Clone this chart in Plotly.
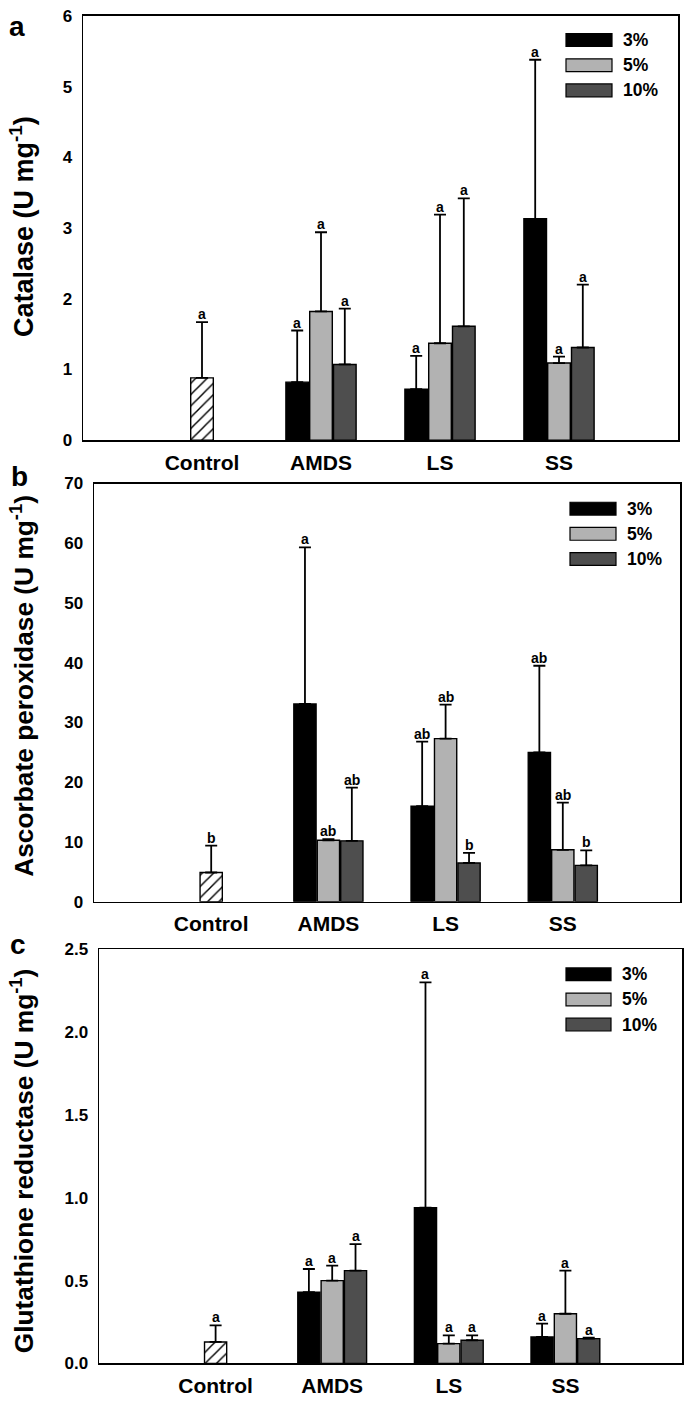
import plotly.graph_objects as go

W, H = 685, 1408

categories = ["Control", "AMDS", "LS", "SS"]
treat_cats = ["AMDS", "LS", "SS"]
series_names = ["3%", "5%", "10%"]

# Panel a: Catalase
a_control = [0.88]
a_control_err = [0.79]
a_control_lab = ["a"]
a_3 = [0.82, 0.72, 3.13]
a_3_err = [0.73, 0.47, 2.25]
a_5 = [1.82, 1.37, 1.09]
a_5_err = [1.12, 1.82, 0.09]
a_10 = [1.07, 1.61, 1.31]
a_10_err = [0.79, 1.81, 0.89]
a_3_lab = ["a", "a", "a"]
a_5_lab = ["a", "a", "a"]
a_10_lab = ["a", "a", "a"]

# Panel b: Ascorbate peroxidase
b_control = [4.9]
b_control_err = [4.5]
b_control_lab = ["b"]
b_3 = [33.1, 16.0, 25.0]
b_3_err = [26.2, 10.8, 14.5]
b_5 = [10.3, 27.3, 8.7]
b_5_err = [0.2, 5.7, 7.9]
b_10 = [10.2, 6.5, 6.1]
b_10_err = [8.9, 1.7, 2.5]
b_3_lab = ["a", "ab", "ab"]
b_5_lab = ["ab", "ab", "ab"]
b_10_lab = ["ab", "b", "b"]

# Panel c: Glutathione reductase
c_control = [0.13]
c_control_err = [0.10]
c_control_lab = ["a"]
c_3 = [0.43, 0.94, 0.16]
c_3_err = [0.14, 1.36, 0.08]
c_5 = [0.50, 0.12, 0.30]
c_5_err = [0.09, 0.05, 0.26]
c_10 = [0.56, 0.14, 0.15]
c_10_err = [0.16, 0.03, 0.006]
c_3_lab = ["a", "a", "a"]
c_5_lab = ["a", "a", "a"]
c_10_lab = ["a", "a", "a"]

y_titles = ["Catalase (U mg<sup>-1</sup>)",
            "Ascorbate peroxidase (U mg<sup>-1</sup>)",
            "Glutathione reductase (U mg<sup>-1</sup>)"]
panel_letters = ["a", "b", "c"]
y_ranges = [[0, 6], [0, 70], [0, 2.5]]
y_dticks = [1, 10, 0.5]
y_formats = ["d", "d", ".1f"]

series_colors = ["#000000", "#b2b2b2", "#4e4e4e"]

FONT = "Liberation Sans, Arial, sans-serif"

# panel frames in pixels (left, right, top, bottom)
frames = [(83, 678, 7, 437), (94, 680, 481, 905), (99, 682, 953, 1373)]
title_y = [221, 686, 1168]
title_size = [27, 26.3, 26.3]
letter_pos = [(17, 18), (19, 474), (18, 948)]
legend_px = [(566, 612, 25), (570, 616, 500), (566, 611, 972)]

data = [
    (a_control, a_control_err, a_control_lab,
     [a_3, a_5, a_10], [a_3_err, a_5_err, a_10_err], [a_3_lab, a_5_lab, a_10_lab]),
    (b_control, b_control_err, b_control_lab,
     [b_3, b_5, b_10], [b_3_err, b_5_err, b_10_err], [b_3_lab, b_5_lab, b_10_lab]),
    (c_control, c_control_err, c_control_lab,
     [c_3, c_5, c_10], [c_3_err, c_5_err, c_10_err], [c_3_lab, c_5_lab, c_10_lab]),
]

BW = 0.19
offsets = [-0.295, -0.095, 0.105]

fig = go.Figure()
annotations = []
shapes = []

def px2x(p):
    return p / W

def px2y(p):
    return 1 - p / H

for i, (ctrl, ctrl_err, ctrl_lab, ser, ser_err, ser_lab) in enumerate(data):
    n = "" if i == 0 else str(i + 1)
    xa, ya = "x" + n, "y" + n
    # control hatched bar
    fig.add_trace(go.Bar(
        x=["Control"], y=ctrl, width=BW, offset=-0.095,
        marker=dict(color="white", line=dict(color="black", width=1.4),
                    pattern=dict(shape="/", fgcolor="black", bgcolor="white",
                                 size=8, solidity=0.18, fillmode="replace")),
        error_y=dict(type="data", symmetric=False, array=ctrl_err,
                     arrayminus=[0] * len(ctrl), color="black",
                     thickness=1.8, width=6),
        xaxis=xa, yaxis=ya, showlegend=False))
    for k in range(3):
        fig.add_trace(go.Bar(
            x=treat_cats, y=ser[k], width=BW, offset=offsets[k],
            name=series_names[k],
            marker=dict(color=series_colors[k], line=dict(color="black", width=1.4)),
            error_y=dict(type="data", symmetric=False, array=ser_err[k],
                         arrayminus=[0] * 3, color="black",
                         thickness=1.8, width=6),
            xaxis=xa, yaxis=ya, showlegend=False))
        for j, cat in enumerate(treat_cats):
            annotations.append(dict(
                x=categories.index(cat) + offsets[k] + BW / 2,
                y=ser[k][j] + ser_err[k][j], xref=xa, yref=ya,
                text=ser_lab[k][j], showarrow=False, yanchor="bottom",
                yshift=-2,
                font=dict(family=FONT, size=14, color="black", weight="bold")))
    annotations.append(dict(
        x=0, y=ctrl[0] + ctrl_err[0], xref=xa, yref=ya,
        text=ctrl_lab[0], showarrow=False, yanchor="bottom", yshift=-2,
        font=dict(family=FONT, size=14, color="black", weight="bold")))

    l, r, t, b = frames[i]
    fig.layout["xaxis" + n] = dict(
        domain=[px2x(l), px2x(r)], anchor=ya, type="category",
        categoryorder="array", categoryarray=categories,
        range=[-1, 4], showline=True, mirror=True, linecolor="black",
        linewidth=1.5, ticks="outside", ticklen=3, tickcolor="rgba(0,0,0,0)",
        tickfont=dict(family=FONT, size=21, color="black", weight="bold"),
        showgrid=False, zeroline=False, fixedrange=True)
    fig.layout["yaxis" + n] = dict(
        domain=[px2y(b), px2y(t)], anchor=xa, range=y_ranges[i],
        dtick=y_dticks[i], tick0=0, tickformat=y_formats[i],
        showline=True, mirror=True, linecolor="black", linewidth=1.5,
        ticks="outside", ticklen=6, tickcolor="rgba(0,0,0,0)",
        tickfont=dict(family=FONT, size=17, color="black", weight="bold"),
        showgrid=False, zeroline=False, fixedrange=True)

    # y title
    annotations.append(dict(
        x=px2x(22), y=px2y(title_y[i]), xref="paper", yref="paper",
        text=y_titles[i], textangle=-90, showarrow=False,
        xanchor="center", yanchor="middle",
        font=dict(family=FONT, size=title_size[i], color="black", weight="bold")))
    # panel letter
    lx, ly = letter_pos[i]
    annotations.append(dict(
        x=px2x(lx), y=px2y(ly), xref="paper", yref="paper",
        text=panel_letters[i], showarrow=False, xanchor="center",
        yanchor="middle",
        font=dict(family=FONT, size=28, color="black", weight="bold")))

    # legend
    x0, x1, y0 = legend_px[i]
    for k in range(3):
        yy = y0 + k * 25.5
        shapes.append(dict(type="rect", xref="paper", yref="paper",
                           x0=px2x(x0), x1=px2x(x1),
                           y0=px2y(yy + 13), y1=px2y(yy),
                           fillcolor=series_colors[k],
                           line=dict(color="black", width=1.2)))
        annotations.append(dict(
            x=px2x(x1 + 9), y=px2y(yy + 6.5), xref="paper", yref="paper",
            text=series_names[k], showarrow=False, xanchor="left",
            yanchor="middle",
            font=dict(family=FONT, size=17.5, color="black", weight="bold")))

fig.update_layout(
    width=W, height=H, autosize=False,
    margin=dict(l=0, r=0, t=0, b=0),
    paper_bgcolor="white", plot_bgcolor="white",
    barmode="overlay", bargap=0,
    annotations=annotations, shapes=shapes,
    font=dict(family=FONT, color="black"),
)

fig.write_html("out.html",
               config={"displayModeBar": False, "staticPlot": True},
               post_script="document.body.style.margin='0px';document.body.style.overflow='hidden';")
